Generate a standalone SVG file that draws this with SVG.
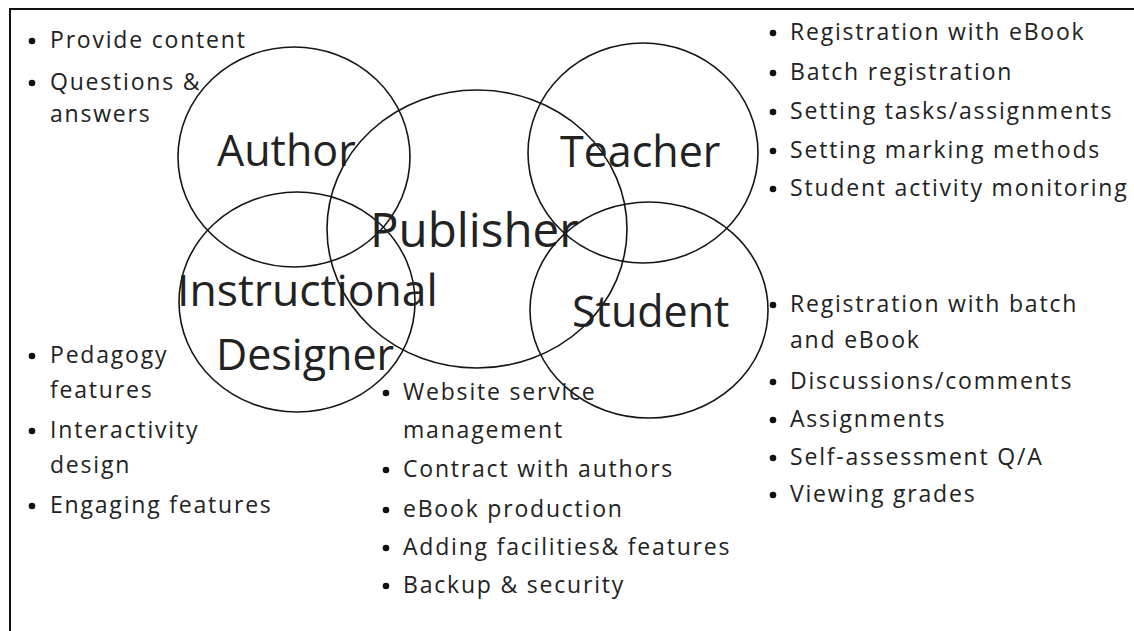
<svg xmlns="http://www.w3.org/2000/svg" width="1134" height="631" viewBox="0 0 1134 631">
<style>
.ring{fill:none;stroke:#151515;stroke-width:1.6}
.lbl{font-family:"Open Sans","Liberation Sans",sans-serif;font-size:43px;fill:#222}
.it{font-family:"Open Sans","Liberation Sans",sans-serif;font-size:23px;letter-spacing:1.8px;fill:#222}
.bul{fill:#111}
</style>
<rect width="1134" height="631" fill="#fff"/>
<path d="M10,631 V9 H1134" fill="none" stroke="#111" stroke-width="2"/>
<g id="connectors"></g>
<g id="author"><ellipse class="ring" cx="294" cy="157" rx="116" ry="110"/><text class="lbl" x="217" y="166">Author</text></g>
<g id="designer"><ellipse class="ring" cx="297" cy="302" rx="118" ry="110"/><text class="lbl" x="177" y="306" style="font-size:44.5px">Instructional</text><text class="lbl" x="216" y="370">Designer</text></g>
<g id="publisher"><ellipse class="ring" cx="477" cy="229" rx="150" ry="139"/><text class="lbl" x="370" y="247" style="font-size:47.5px">Publisher</text></g>
<g id="teacher"><ellipse class="ring" cx="643" cy="153" rx="115" ry="110"/><text class="lbl" x="560" y="167">Teacher</text></g>
<g id="student"><ellipse class="ring" cx="649" cy="310" rx="119" ry="108"/><text class="lbl" x="572" y="327">Student</text></g>
<g id="author-list">
<circle class="bul" cx="32" cy="41" r="3.3"/><text class="it" x="50" y="48">Provide content</text>
<circle class="bul" cx="32" cy="83" r="3.3"/><text class="it" x="50" y="90">Questions &amp;</text>
<text class="it" x="50" y="122">answers</text>
</g>
<g id="teacher-list">
<circle class="bul" cx="773" cy="33" r="3.3"/><text class="it" x="790" y="40">Registration with eBook</text>
<circle class="bul" cx="773" cy="73" r="3.3"/><text class="it" x="790" y="80">Batch registration</text>
<circle class="bul" cx="773" cy="112" r="3.3"/><text class="it" x="790" y="119">Setting tasks/assignments</text>
<circle class="bul" cx="773" cy="151" r="3.3"/><text class="it" x="790" y="158">Setting marking methods</text>
<circle class="bul" cx="773" cy="189" r="3.3"/><text class="it" x="790" y="196">Student activity monitoring</text>
</g>
<g id="student-list">
<circle class="bul" cx="773" cy="305" r="3.3"/><text class="it" x="790" y="312">Registration with batch</text>
<text class="it" x="790" y="348">and eBook</text>
<circle class="bul" cx="773" cy="382" r="3.3"/><text class="it" x="790" y="389">Discussions/comments</text>
<circle class="bul" cx="773" cy="420" r="3.3"/><text class="it" x="790" y="427">Assignments</text>
<circle class="bul" cx="773" cy="458" r="3.3"/><text class="it" x="790" y="465">Self-assessment Q/A</text>
<circle class="bul" cx="773" cy="495" r="3.3"/><text class="it" x="790" y="502">Viewing grades</text>
</g>
<g id="designer-list">
<circle class="bul" cx="32" cy="356" r="3.3"/><text class="it" x="50" y="363">Pedagogy</text>
<text class="it" x="50" y="398">features</text>
<circle class="bul" cx="32" cy="431" r="3.3"/><text class="it" x="50" y="438">Interactivity</text>
<text class="it" x="50" y="473">design</text>
<circle class="bul" cx="32" cy="506" r="3.3"/><text class="it" x="50" y="513">Engaging features</text>
</g>
<g id="publisher-list">
<circle class="bul" cx="386" cy="393" r="3.3"/><text class="it" x="403" y="400">Website service</text>
<text class="it" x="403" y="438">management</text>
<circle class="bul" cx="386" cy="470" r="3.3"/><text class="it" x="403" y="477">Contract with authors</text>
<circle class="bul" cx="386" cy="510" r="3.3"/><text class="it" x="403" y="517">eBook production</text>
<circle class="bul" cx="386" cy="548" r="3.3"/><text class="it" x="403" y="555">Adding facilities&amp; features</text>
<circle class="bul" cx="386" cy="586" r="3.3"/><text class="it" x="403" y="593">Backup &amp; security</text>
</g>
</svg>
